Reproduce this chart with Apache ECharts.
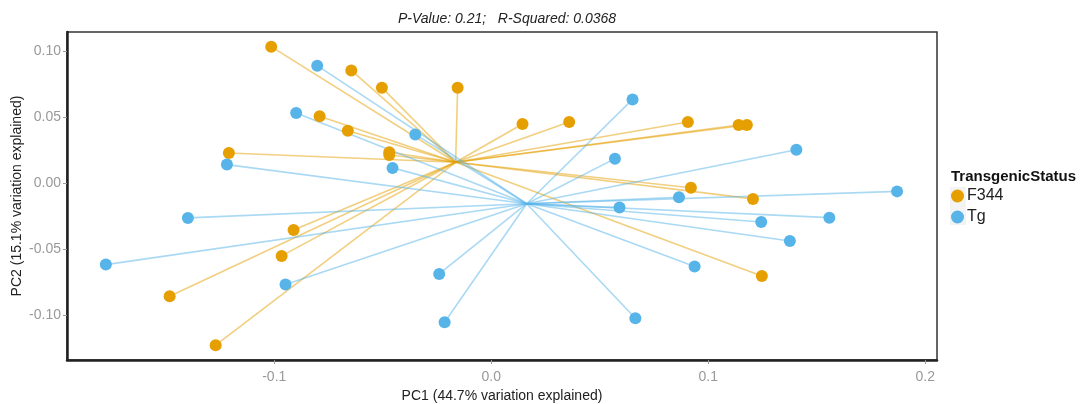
<!DOCTYPE html>
<html>
<head>
<meta charset="utf-8">
<title>PCA by TransgenicStatus</title>
<script src="https://cdn.jsdelivr.net/npm/echarts@6/dist/echarts.min.js"></script>
<style>
  html, body { margin: 0; padding: 0; background: #ffffff; }
  #chart { width: 1089px; height: 404px; }
</style>
</head>
<body>
<div id="chart"></div>
<script>
// PC1 / PC2 scores for each sample, per group
const f344PC1 = [-0.1014, -0.0645, -0.0504, -0.0155, -0.0791, -0.0661, -0.0470, -0.0470, -0.1209,
                 0.0144, 0.0359, 0.0906, 0.1140, 0.1178, 0.0920, 0.1206, 0.1247,
                 -0.0911, -0.0966, -0.1482, -0.1270];
const f344PC2 = [0.1036, 0.0856, 0.0725, 0.0725, 0.0508, 0.0399, 0.0235, 0.0215, 0.0230,
                 0.0450, 0.0465, 0.0465, 0.0442, 0.0442, -0.0033, -0.0118, -0.0702,
                 -0.0353, -0.0550, -0.0856, -0.1227];

const tgPC1 = [-0.0802, -0.0899, -0.0350, -0.1218, -0.0455, 0.0651, 0.0570, 0.1406, 0.1870,
               0.0865, 0.0591, 0.1558, 0.1244, 0.1376, 0.0937, 0.0664,
               -0.1398, -0.1776, -0.0948, -0.0240, -0.0215];
const tgPC2 = [0.0892, 0.0533, 0.0371, 0.0142, 0.0117, 0.0636, 0.0187, 0.0255, -0.0061,
               -0.0106, -0.0184, -0.0260, -0.0293, -0.0437, -0.0631, -0.1023,
               -0.0262, -0.0616, -0.0767, -0.0687, -0.1053];

const groupNames = ['F344', 'Tg'];
const groupColors = ['#E69F00', '#56B4E9'];

const xTickValues = [-0.1, 0, 0.1, 0.2];
const xTickLabels = ['-0.1', '0.0', '0.1', '0.2'];
const yTickValues = [-0.10, -0.05, 0, 0.05, 0.10];
const yTickLabels = ['-0.10', '-0.05', '0.00', '0.05', '0.10'];

const titleText = 'P-Value: 0.21;   R-Squared: 0.0368';
const xName = 'PC1 (44.7% variation explained)';
const yName = 'PC2 (15.1% variation explained)';
const legendTitle = 'TransgenicStatus';

function mean(arr) { return arr.reduce((s, v) => s + v, 0) / arr.length; }
function zipPoints(xs, ys) { return xs.map((x, i) => [x, ys[i]]); }
// segments from each sample to its group centroid
function spokes(xs, ys) {
  const c = [mean(xs), mean(ys)];
  return xs.map((x, i) => ({ coords: [c, [x, ys[i]]] }));
}

const groups = [
  { name: groupNames[0], color: groupColors[0], xs: f344PC1, ys: f344PC2 },
  { name: groupNames[1], color: groupColors[1], xs: tgPC1, ys: tgPC2 }
];

const FONT = '"Liberation Sans", Arial, Helvetica, sans-serif';

const series = [];
groups.forEach(g => {
  series.push({
    type: 'lines',
    coordinateSystem: 'cartesian2d',
    silent: true,
    z: 1,
    lineStyle: { color: g.color, width: 1.6, opacity: 0.5 },
    data: spokes(g.xs, g.ys)
  });
});
groups.forEach(g => {
  series.push({
    name: g.name,
    type: 'scatter',
    z: 3,
    symbol: 'circle',
    symbolSize: 12,
    itemStyle: { color: g.color, opacity: 1 },
    data: zipPoints(g.xs, g.ys)
  });
});

const chart = echarts.init(document.getElementById('chart'), null, { renderer: 'canvas' });

chart.setOption({
  animation: false,
  backgroundColor: '#ffffff',
  textStyle: { fontFamily: FONT },
  title: {
    text: titleText,
    left: 502,
    textAlign: 'center',
    top: 7,
    textStyle: { fontFamily: FONT, fontStyle: 'italic', fontWeight: 'normal', fontSize: 14, color: '#222' }
  },
  grid: {
    left: 67, right: 152, top: 32, bottom: 44,
    outerBoundsMode: 'none',
    containLabel: false,
    show: true,
    borderColor: '#333',
    borderWidth: 1.5,
    backgroundColor: '#ffffff'
  },
  xAxis: {
    type: 'value',
    min: -0.1955,
    max: 0.2054,
    name: xName,
    nameLocation: 'middle',
    nameGap: 29,
    nameMoveOverlap: false,
    nameTextStyle: { fontFamily: FONT, fontSize: 14, color: '#222' },
    axisLine: { show: true, onZero: false, lineStyle: { color: '#222', width: 2.5 } },
    axisTick: { show: true, customValues: xTickValues, length: 4, lineStyle: { color: '#999', width: 1 } },
    axisLabel: {
      customValues: xTickValues,
      formatter: v => xTickLabels[xTickValues.findIndex(t => Math.abs(t - v) < 1e-9)] ?? '',
      fontFamily: FONT, fontSize: 14, color: '#999', margin: 10
    },
    splitLine: { show: false }
  },
  yAxis: {
    type: 'value',
    min: -0.1339,
    max: 0.1147,
    name: yName,
    nameLocation: 'middle',
    nameGap: 43,
    nameMoveOverlap: false,
    nameTextStyle: { fontFamily: FONT, fontSize: 14, color: '#222' },
    axisLine: { show: true, onZero: false, lineStyle: { color: '#222', width: 2.5 } },
    axisTick: { show: true, customValues: yTickValues, length: 4, lineStyle: { color: '#999', width: 1 } },
    axisLabel: {
      customValues: yTickValues,
      formatter: v => yTickLabels[yTickValues.findIndex(t => Math.abs(t - v) < 1e-9)] ?? '',
      fontFamily: FONT, fontSize: 14, color: '#999', margin: 6
    },
    splitLine: { show: false }
  },
  legend: {
    data: groupNames,
    orient: 'vertical',
    left: 951,
    top: 188,
    padding: 0,
    icon: 'circle',
    itemWidth: 13,
    itemHeight: 13,
    itemGap: 5,
    textStyle: { fontFamily: FONT, fontSize: 16, color: '#222', padding: [0, 0, 0, -2] }
  },
  graphic: [
    {
      type: 'text',
      left: 951,
      top: 169,
      style: { text: legendTitle, font: 'bold 15px ' + FONT, fill: '#111' }
    },
    {
      type: 'rect',
      z: -1,
      shape: { x: 950, y: 187, width: 16, height: 38 },
      style: { fill: '#f3f3f3' }
    }
  ],
  series: series
});
</script>
</body>
</html>
